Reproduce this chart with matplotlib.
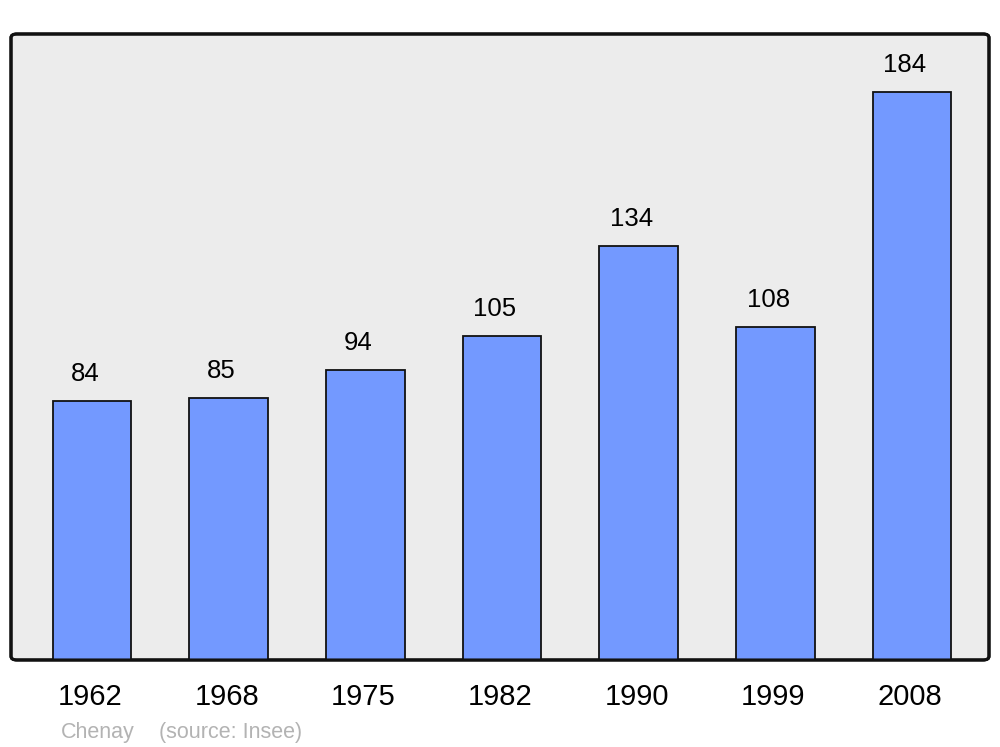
import matplotlib
matplotlib.use('Agg')
import matplotlib.pyplot as plt
from matplotlib.patches import FancyBboxPatch
from matplotlib.transforms import ScaledTranslation

plt.rcParams['font.family'] = ['Liberation Sans', 'DejaVu Sans']

#### Data
years = ['1962', '1968', '1975', '1982', '1990', '1999', '2008']
population = [84, 85, 94, 105, 134, 108, 184]
town = 'Chenay'
source = '(source: Insee)'

fig = plt.figure(figsize=(10, 7.47), dpi=100)
ax = fig.add_axes([0.011, 0.1165, 0.978, 0.838])
ax.set_facecolor('none')

# rounded grey frame
frame = FancyBboxPatch((0, 0), 1, 1, boxstyle='round,pad=0,rounding_size=0.006',
                       transform=ax.transAxes, facecolor='#ececec', edgecolor='#111111',
                       linewidth=2.2, zorder=0, clip_on=False)
ax.add_patch(frame)
frame_top = FancyBboxPatch((0, 0), 1, 1, boxstyle='round,pad=0,rounding_size=0.006',
                           transform=ax.transAxes, facecolor='none', edgecolor='#111111',
                           linewidth=2.2, zorder=5, clip_on=False)
ax.add_patch(frame_top)

x = list(range(len(years)))
bars = ax.bar(x, population, width=0.575, color='#7399ff', edgecolor='#111111',
              linewidth=1.3, zorder=2)

for xi, v in zip(x, population):
    ax.annotate(str(v), (xi, v), xytext=(-7, 20), textcoords='offset pixels',
                ha='center', va='baseline', fontsize=18.5, color='black')

ax.set_xlim(-0.593, 6.563)
ax.set_ylim(0, 202.8)
ax.set_xticks(x)
ax.set_xticklabels(years, fontsize=21)
ax.tick_params(axis='x', length=0, pad=16.5)
# nudge year labels slightly left, like the reference
for lbl in ax.get_xticklabels():
    lbl.set_transform(lbl.get_transform() + ScaledTranslation(-0.02, 0, fig.dpi_scale_trans))
ax.set_yticks([])
for s in ax.spines.values():
    s.set_visible(False)

fig.text(0.061, 1 - 738 / 747, town, fontsize=15.5, color='#b3b3b3', va='baseline')
fig.text(0.159, 1 - 738 / 747, source, fontsize=15.5, color='#b3b3b3', va='baseline')

fig.savefig('out.png', dpi=100)
